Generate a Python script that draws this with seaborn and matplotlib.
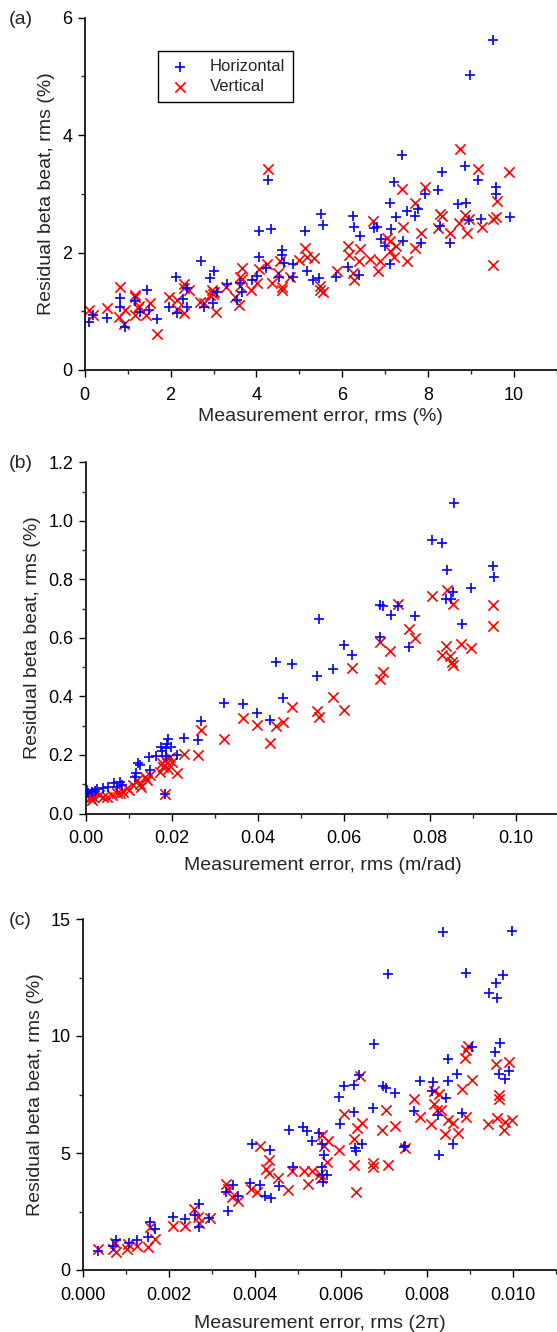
import numpy as np
import seaborn as sns
import matplotlib.pyplot as plt
from matplotlib.ticker import MultipleLocator, FormatStrFormatter

# ------------------------------------------------------------------------------
# Data read off the figure: residual beta beat vs. measurement error
# ------------------------------------------------------------------------------
# (a) amplitude error (%)
a_hor_x = [9.51, 8.97, 7.40, 8.85, 8.32, 4.28, 7.20, 9.15, 8.24, 9.57, 7.93, 9.57,
           7.10, 8.70, 8.87, 7.76, 7.50, 7.70, 5.50, 6.26, 8.96, 9.24, 9.91, 7.24,
           5.54, 6.27, 6.74, 6.80, 4.07, 4.35, 5.14, 6.41, 7.14, 8.28, 6.89, 7.41,
           7.83, 8.51, 7.00, 4.59, 4.60, 4.05, 2.72, 4.64, 4.86, 7.11, 4.22, 3.00,
           5.18, 6.14, 4.01, 2.92, 2.13, 3.89, 4.53, 4.85, 5.86, 6.40, 5.45, 5.31,
           3.31, 3.62, 2.38, 1.44, 3.67, 3.08, 1.17, 0.82, 0.82, 2.30, 2.78, 2.98,
           3.54, 1.97, 1.49, 1.29, 2.14, 2.39, 0.94, 1.68, 0.51, 0.20, 0.11]
a_hor_y = [5.62, 5.02, 3.67, 3.48, 3.38, 3.23, 3.21, 3.23, 3.07, 3.12, 3.00, 3.00,
           2.85, 2.83, 2.85, 2.74, 2.70, 2.62, 2.66, 2.63, 2.56, 2.57, 2.60, 2.60,
           2.47, 2.44, 2.41, 2.44, 2.37, 2.40, 2.36, 2.28, 2.40, 2.45, 2.23, 2.20,
           2.17, 2.16, 2.12, 2.04, 1.96, 1.92, 1.85, 1.82, 1.80, 1.81, 1.73, 1.68,
           1.68, 1.75, 1.60, 1.56, 1.58, 1.54, 1.58, 1.58, 1.59, 1.61, 1.56, 1.53,
           1.47, 1.49, 1.39, 1.36, 1.32, 1.33, 1.18, 1.23, 1.08, 1.21, 1.08, 1.14,
           1.19, 1.08, 1.03, 0.98, 0.97, 1.08, 0.74, 0.87, 0.89, 0.94, 0.82]
a_ver_x = [8.73, 4.28, 9.15, 9.89, 7.40, 7.92, 9.60, 7.70, 8.28, 8.32, 8.85, 8.96,
           9.52, 9.58, 6.72, 7.41, 8.24, 7.83, 8.51, 8.72, 8.90, 9.25, 7.03, 7.11,
           7.24, 6.13, 6.41, 7.69, 5.14, 7.11, 6.16, 5.17, 5.34, 7.21, 6.65, 6.88,
           7.50, 6.40, 4.98, 4.55, 4.25, 9.52, 3.67, 4.07, 5.88, 6.26, 6.83, 4.50,
           3.62, 4.78, 6.27, 3.67, 2.32, 2.32, 4.36, 5.47, 4.59, 4.60, 4.01, 5.47,
           5.56, 2.44, 3.29, 3.62, 0.82, 3.87, 2.96, 2.98, 2.92, 3.00, 1.17, 1.17,
           1.97, 2.14, 2.69, 2.77, 3.50, 3.59, 3.05, 1.51, 1.27, 1.24, 1.17, 1.43,
           2.14, 2.32, 0.94, 0.81, 0.92, 1.69, 0.51, 0.11, 0.20]
a_ver_y = [3.76, 3.43, 3.43, 3.37, 3.08, 3.12, 2.87, 2.85, 2.66, 2.63, 2.64, 2.57,
           2.58, 2.61, 2.53, 2.44, 2.41, 2.33, 2.34, 2.50, 2.34, 2.44, 2.24, 2.19,
           2.11, 2.12, 2.06, 2.07, 2.07, 2.02, 1.96, 1.92, 1.90, 1.92, 1.89, 1.85,
           1.86, 1.85, 1.87, 1.85, 1.80, 1.79, 1.74, 1.72, 1.68, 1.65, 1.69, 1.65,
           1.59, 1.59, 1.53, 1.55, 1.46, 1.39, 1.48, 1.43, 1.42, 1.37, 1.49, 1.36,
           1.32, 1.36, 1.42, 1.43, 1.42, 1.36, 1.36, 1.30, 1.28, 1.33, 1.28, 1.24,
           1.24, 1.19, 1.15, 1.14, 1.25, 1.11, 0.99, 1.14, 1.09, 1.05, 0.94, 0.94,
           1.04, 0.97, 1.02, 0.90, 0.78, 0.61, 1.05, 1.02, 0.94]

# (b) dispersion error (m/rad)
b_hor_x = [0.0855, 0.0804, 0.0829, 0.0839, 0.0947, 0.0949, 0.0895, 0.0853, 0.0837,
           0.0848, 0.0542, 0.0684, 0.0691, 0.0726, 0.0709, 0.0764, 0.0874, 0.0684,
           0.0752, 0.0601, 0.0618, 0.0443, 0.0480, 0.0537, 0.0575, 0.0457, 0.0321,
           0.0364, 0.0397, 0.0429, 0.0267, 0.0229, 0.0260, 0.0190, 0.0197, 0.0211,
           0.0174, 0.0186, 0.0189, 0.0176, 0.0186, 0.0147, 0.0163, 0.0122, 0.0125,
           0.0116, 0.0149, 0.0114, 0.0184, 0.0079, 0.0064, 0.0050, 0.0071, 0.0083,
           0.0040, 0.0025, 0.0002, 0.0013, 0.0005, 0.0020]
b_hor_y = [1.062, 0.933, 0.924, 0.833, 0.845, 0.808, 0.771, 0.757, 0.734,
           0.734, 0.665, 0.714, 0.709, 0.709, 0.677, 0.675, 0.646, 0.603,
           0.569, 0.575, 0.541, 0.516, 0.512, 0.470, 0.494, 0.395, 0.379,
           0.374, 0.344, 0.321, 0.316, 0.259, 0.251, 0.253, 0.228, 0.199,
           0.228, 0.223, 0.237, 0.213, 0.196, 0.194, 0.196, 0.171, 0.165,
           0.137, 0.148, 0.125, 0.065, 0.109, 0.103, 0.092, 0.092, 0.097,
           0.088, 0.083, 0.080, 0.075, 0.070, 0.078]
b_ver_x = [0.0839, 0.0804, 0.0854, 0.0947, 0.0725, 0.0947, 0.0752, 0.0764, 0.0684,
           0.0837, 0.0871, 0.0895, 0.0708, 0.0827, 0.0846, 0.0850, 0.0853, 0.0619,
           0.0691, 0.0684, 0.0575, 0.0480, 0.0537, 0.0543, 0.0601, 0.0364, 0.0398,
           0.0443, 0.0457, 0.0429, 0.0321, 0.0267, 0.0229, 0.0260, 0.0212, 0.0184,
           0.0195, 0.0188, 0.0180, 0.0172, 0.0191, 0.0184, 0.0199, 0.0176, 0.0149,
           0.0141, 0.0126, 0.0129, 0.0110, 0.0119, 0.0137, 0.0087, 0.0071, 0.0060,
           0.0048, 0.0040, 0.0079, 0.0095, 0.0010, 0.0005, 0.0013, 0.0002, 0.0009,
           0.0017, 0.0030, 0.0100]
b_ver_y = [0.765, 0.744, 0.715, 0.712, 0.717, 0.641, 0.632, 0.601, 0.586,
           0.573, 0.578, 0.567, 0.555, 0.541, 0.539, 0.516, 0.507, 0.496,
           0.482, 0.458, 0.399, 0.365, 0.351, 0.330, 0.355, 0.327, 0.302,
           0.299, 0.311, 0.240, 0.254, 0.285, 0.202, 0.200, 0.140, 0.065,
           0.194, 0.171, 0.160, 0.143, 0.153, 0.183, 0.177, 0.171, 0.131,
           0.116, 0.102, 0.091, 0.097, 0.114, 0.125, 0.074, 0.069, 0.063,
           0.058, 0.058, 0.069, 0.086, 0.057, 0.063, 0.046, 0.069, 0.052,
           0.057, 0.062, 0.080]

# (c) phase error (2pi)
c_hor_x = [0.00837, 0.00998, 0.00708, 0.00889, 0.00977, 0.00959, 0.00943, 0.00963,
           0.00969, 0.00675, 0.00903, 0.00957, 0.00849, 0.00967, 0.00991, 0.00981,
           0.00870, 0.00642, 0.00783, 0.00814, 0.00847, 0.00630, 0.00607, 0.00696,
           0.00704, 0.00726, 0.00812, 0.00595, 0.00843, 0.00674, 0.00630, 0.00770,
           0.00824, 0.00880, 0.00597, 0.00478, 0.00512, 0.00521, 0.00549, 0.00532,
           0.00633, 0.00634, 0.00647, 0.00748, 0.00860, 0.00827, 0.00555, 0.00560,
           0.00393, 0.00434, 0.00488, 0.00556, 0.00554, 0.00567, 0.00557, 0.00349,
           0.00388, 0.00411, 0.00454, 0.00332, 0.00360, 0.00423, 0.00436, 0.00336,
           0.00269, 0.00268, 0.00260, 0.00208, 0.00236, 0.00293, 0.00155, 0.00167,
           0.00151, 0.00124, 0.00107, 0.00076, 0.00070, 0.00035, 0.00746]
c_hor_y = [14.46, 14.50, 12.66, 12.69, 12.61, 12.28, 11.82, 11.61,
           9.72, 9.65, 9.54, 9.32, 9.01, 8.37, 8.51, 8.18,
           8.37, 8.32, 8.08, 8.04, 8.08, 7.92, 7.85, 7.88,
           7.78, 7.57, 7.64, 7.39, 7.35, 6.92, 6.75, 6.80,
           6.64, 6.71, 6.22, 6.00, 6.11, 5.92, 5.87, 5.51,
           5.22, 5.08, 5.40, 5.28, 5.40, 4.93, 5.37, 4.93,
           5.40, 5.14, 4.40, 4.40, 4.04, 4.04, 3.77, 3.65,
           3.71, 3.65, 3.57, 3.33, 3.18, 3.18, 3.07, 2.54,
           2.80, 1.83, 2.36, 2.28, 2.18, 2.21, 2.04, 1.76,
           1.43, 1.30, 1.14, 1.30, 1.04, 0.80, 5.25]
c_ver_x = [0.00895, 0.00891, 0.00888, 0.00959, 0.00990, 0.00905, 0.00880, 0.00967,
           0.00967, 0.00643, 0.00770, 0.00816, 0.00827, 0.00816, 0.00823, 0.00833,
           0.00704, 0.00606, 0.00783, 0.00849, 0.00860, 0.00891, 0.00942, 0.00961,
           0.00981, 0.00998, 0.00978, 0.00809, 0.00841, 0.00871, 0.00725, 0.00636,
           0.00647, 0.00695, 0.00630, 0.00555, 0.00570, 0.00560, 0.00411, 0.00594,
           0.00747, 0.00433, 0.00566, 0.00629, 0.00673, 0.00674, 0.00709, 0.00424,
           0.00433, 0.00453, 0.00486, 0.00513, 0.00532, 0.00550, 0.00553, 0.00523,
           0.00477, 0.00634, 0.00331, 0.00337, 0.00345, 0.00360, 0.00391, 0.00403,
           0.00258, 0.00267, 0.00269, 0.00294, 0.00208, 0.00237, 0.00155, 0.00167,
           0.00150, 0.00105, 0.00124, 0.00101, 0.00074, 0.00070, 0.00076, 0.00035]
c_ver_y = [9.56, 9.39, 9.08, 8.79, 8.89, 8.14, 7.72, 7.47,
           7.32, 8.29, 7.32, 7.65, 7.51, 7.11, 6.85, 6.82,
           6.85, 6.65, 6.54, 6.40, 6.28, 6.54, 6.22, 6.51,
           6.32, 6.42, 5.97, 6.25, 5.82, 5.85, 6.15, 6.08,
           6.28, 5.97, 5.61, 5.75, 5.51, 5.28, 5.32, 5.11,
           5.22, 4.68, 4.61, 4.47, 4.57, 4.40, 4.47, 4.30,
           4.14, 3.94, 4.25, 4.22, 4.22, 4.11, 3.94, 3.68,
           3.43, 3.33, 3.68, 3.47, 3.11, 2.97, 3.47, 3.33,
           2.61, 2.26, 2.00, 2.21, 1.90, 1.90, 1.83, 1.33,
           0.97, 1.11, 1.04, 0.90, 1.14, 0.90, 0.76, 0.89]

sns.set_style('ticks')
plt.rcParams['font.family'] = ['Liberation Sans', 'DejaVu Sans']

fig = plt.figure(figsize=(5.57, 13.32), dpi=100)
W, H = 557.0, 1332.0


def make_axes(left_px, right_px, top_px, bottom_px):
    return fig.add_axes([left_px / W, 1 - bottom_px / H,
                         (right_px - left_px) / W, (bottom_px - top_px) / H])


panels = [
    dict(ax=make_axes(84.7, 557.0, 17.7, 370.0),
         hx=a_hor_x, hy=a_hor_y, vx=a_ver_x, vy=a_ver_y,
         xlim=(0, 11), ylim=(0, 6), xmaj=2, xmin=1, ymaj=2, ymin=1,
         xfmt='%g', yfmt='%g', xlabel='Measurement error, rms (%)', tag='(a)',
         xlabelpad=3),
    dict(ax=make_axes(86.0, 559.0, 462.3, 813.5),
         hx=b_hor_x, hy=b_hor_y, vx=b_ver_x, vy=b_ver_y,
         xlim=(0, 0.11), ylim=(0, 1.2), xmaj=0.02, xmin=0.01, ymaj=0.2, ymin=0.1,
         xfmt='%.2f', yfmt='%.1f', xlabel='Measurement error, rms (m/rad)', tag='(b)',
         xlabelpad=7),
    dict(ax=make_axes(83.3, 556.3, 919.0, 1270.0),
         hx=c_hor_x, hy=c_hor_y, vx=c_ver_x, vy=c_ver_y,
         xlim=(0, 0.011), ylim=(0, 15), xmaj=0.002, xmin=0.001, ymaj=5, ymin=2.5,
         xfmt='%.3f', yfmt='%g', xlabel='Measurement error, rms (2\u03c0)', tag='(c)',
         xlabelpad=8),
]

for p in panels:
    ax = p['ax']
    sns.scatterplot(x=p['hx'], y=p['hy'], ax=ax, marker='+', color='#0000ff',
                    s=60, linewidth=1.2, label='Horizontal', legend=False, zorder=3)
    sns.scatterplot(x=p['vx'], y=p['vy'], ax=ax, marker='x', color='#ff0000',
                    s=55, linewidth=1.2, label='Vertical', legend=False, zorder=2)
    ax.xaxis.set_major_locator(MultipleLocator(p['xmaj']))
    ax.xaxis.set_minor_locator(MultipleLocator(p['xmin']))
    ax.yaxis.set_major_locator(MultipleLocator(p['ymaj']))
    ax.yaxis.set_minor_locator(MultipleLocator(p['ymin']))
    ax.xaxis.set_major_formatter(FormatStrFormatter(p['xfmt']))
    ax.yaxis.set_major_formatter(FormatStrFormatter(p['yfmt']))
    ax.set_xlim(*p['xlim'])
    ax.set_ylim(*p['ylim'])
    ax.tick_params(which='major', direction='out', length=5, width=1,
                   labelsize=13, colors='black')
    ax.tick_params(axis='x', which='major', pad=7)
    ax.tick_params(axis='y', which='major', pad=4)
    ax.tick_params(which='minor', direction='out', length=3, width=1)
    sns.despine(ax=ax)
    for s in ('left', 'bottom'):
        ax.spines[s].set_linewidth(1.2)
        ax.spines[s].set_color('black')
    ax.set_xlabel(p['xlabel'], fontsize=14, labelpad=p['xlabelpad'])
    ax.set_ylabel('Residual beta beat, rms (%)', fontsize=14, labelpad=5)
    bb = ax.get_position()
    fig.text(0.015, bb.y1 - 0.001, p['tag'], fontsize=14, va='center', ha='left')

leg = panels[0]['ax'].legend(loc='upper left', bbox_to_anchor=(0.155, 0.906),
                             borderaxespad=0, fancybox=False, edgecolor='black',
                             framealpha=1, fontsize=12, handletextpad=1.0,
                             borderpad=0.5, labelspacing=0.3, handlelength=1.6)
leg.get_frame().set_linewidth(1.0)

fig.savefig('out.png', dpi=100)
